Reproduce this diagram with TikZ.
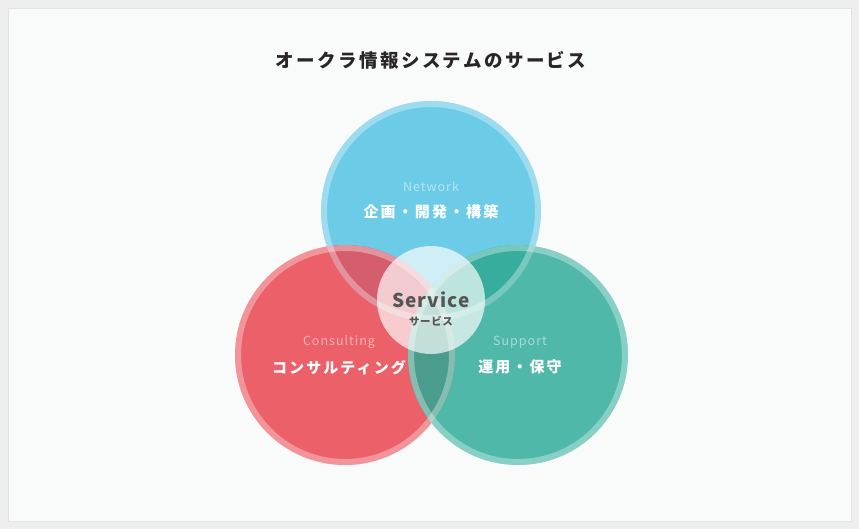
\documentclass[tikz,border=0pt]{standalone}
\usepackage{fontspec}
\setmainfont{Noto Sans CJK JP}
\usetikzlibrary{positioning}

\definecolor{netblue}{HTML}{6CCBE6}
\definecolor{conred}{HTML}{EC6169}
\definecolor{supgreen}{HTML}{4FB8A9}
\definecolor{bluered}{HTML}{D55E6D}
\definecolor{bluegreen}{HTML}{36AD9D}
\definecolor{redgreen}{HTML}{4A9D8C}
\definecolor{paper}{HTML}{F9FBFB}
\definecolor{titlegray}{HTML}{2A2626}
\definecolor{servgray}{HTML}{555555}

\begin{document}
\begin{tikzpicture}[x=1pt,y=-1pt,
    ring/.style={draw=white,draw opacity=0.33,line width=6pt},
    small/.style={text=white,text opacity=0.5,font=\fontsize{12.5}{12.5}\selectfont\addfontfeatures{LetterSpace=8}},
    big/.style={text=white,font=\fontsize{15}{15}\selectfont\bfseries\addfontfeatures{LetterSpace=14}},
    node distance=5pt]
    % frame
    \fill[gray!13] (0,0) rectangle (859,529);
    \useasboundingbox (0,0) rectangle (859,529);
    \filldraw[fill=paper,draw=gray!22] (8,8) rectangle (851,521);

    \node[text=titlegray,font=\fontsize{18.5}{18.5}\selectfont\bfseries\addfontfeatures{LetterSpace=13}] (title) at (431,60) {オークラ情報システムのサービス};

    \coordinate (n) at (431,211);
    \coordinate (c) at (345,355);
    \coordinate (s) at (518,355);

    % circles
    \fill[netblue] (n) circle[radius=110pt];
    \fill[conred] (c) circle[radius=110pt];
    \fill[supgreen] (s) circle[radius=110pt];
    \begin{scope}
        \clip (n) circle[radius=110pt];
        \fill[bluered] (c) circle[radius=110pt];
        \fill[bluegreen] (s) circle[radius=110pt];
    \end{scope}
    \begin{scope}
        \clip (c) circle[radius=110pt];
        \fill[redgreen] (s) circle[radius=110pt];
    \end{scope}
    \foreach \p in {n,c,s}
        \draw[ring] (\p) circle[radius=107pt];

    % centre
    \coordinate (v) at (431,300);
    \fill[white,fill opacity=0.68] (v) circle[radius=54pt];

    \node[text=servgray,font=\fontsize{19}{19}\selectfont\bfseries\addfontfeatures{LetterSpace=6}] (serv) at (431,300) {Service};
    \node[text=servgray,font=\fontsize{10.5}{10.5}\selectfont\bfseries\addfontfeatures{LetterSpace=6},below=1pt of serv] (servjp) {サービス};

    \node[small] (net) at (431,187) {Network};
    \node[big,below=of net] (netjp) {企画・開発・構築};

    \node[small] (con) at (339,342) {Consulting};
    \node[big,below=of con] (conjp) {コンサルティング};

    \node[small] (sup) at (520,342) {Support};
    \node[big,below=of sup] (supjp) {運用・保守};
\end{tikzpicture}
\end{document}
